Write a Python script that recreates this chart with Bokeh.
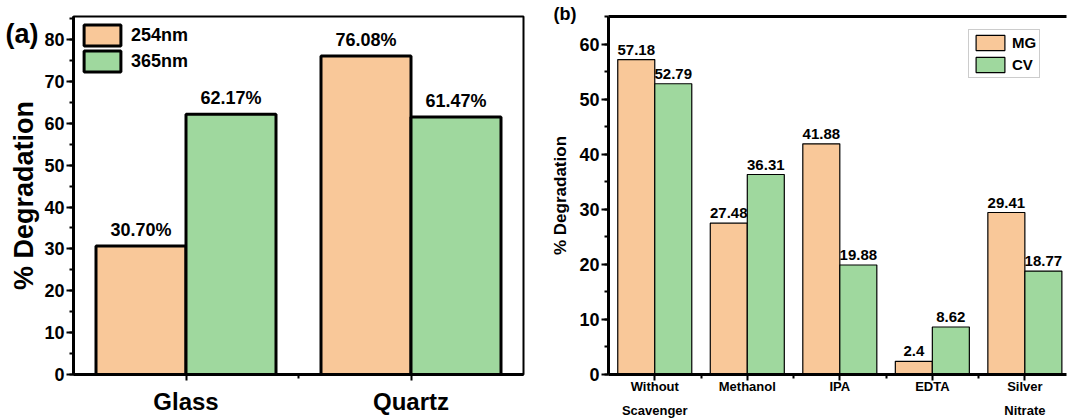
from bokeh.plotting import figure
from bokeh.models import (Range1d, FixedTicker, SingleIntervalTicker, Legend, LegendItem,
                          Title, LinearAxis)
from bokeh.layouts import row
from bokeh.embed import file_html
from bokeh.resources import INLINE
from bokeh.core.properties import value

# ---------------- data ----------------
substrates = ["Glass", "Quartz"]
wavelengths = ["254nm", "365nm"]
deg_254 = [30.70, 76.08]
deg_365 = [62.17, 61.47]

scavengers = ["Without\nScavenger", "Methanol", "IPA", "EDTA", "Silver\nNitrate"]
dyes = ["MG", "CV"]
mg = [57.18, 27.48, 41.88, 2.4, 29.41]
cv = [52.79, 36.31, 19.88, 8.62, 18.77]

ORANGE = "#F9C899"
GREEN = "#9FD89E"
FONT = "Liberation Sans"


def style_axis(ax, label_size, tick_len=7):
    ax.axis_line_width = 3
    ax.axis_line_color = "black"
    ax.major_tick_line_width = 2
    ax.minor_tick_line_width = 2
    ax.major_tick_in = 0
    ax.minor_tick_in = 0
    ax.major_tick_out = tick_len
    ax.minor_tick_out = 4
    ax.major_label_text_font = FONT
    ax.major_label_text_font_style = "bold"
    ax.major_label_text_font_size = label_size
    ax.major_label_text_color = "black"
    ax.axis_label_text_font = FONT
    ax.axis_label_text_font_style = "bold"
    ax.axis_label_text_color = "black"
    ax.axis_label_standoff = 0


# ---------------- panel (a) ----------------
t1 = Title(text="(a)", align="left", offset=-68, standoff=-64, vertical_align="bottom",
           text_font=FONT, text_font_style="bold", text_font_size="27px", text_color="black")
p1 = figure(width=540, height=420, x_range=Range1d(0.5, 2.5), y_range=Range1d(0, 85.5),
            output_backend="svg", toolbar_location=None, title=t1,
            min_border_left=73, min_border_top=16, min_border_bottom=46, min_border_right=17)
p1.grid.visible = False
p1.outline_line_color = "black"
p1.outline_line_width = 2
p1.background_fill_color = "white"

xa = list(range(1, len(substrates) + 1))
xa_254 = [x - 0.2 for x in xa]
xa_365 = [x + 0.2 for x in xa]
r254 = p1.vbar(x=xa_254, top=deg_254, width=0.4, fill_color=ORANGE, line_color="black", line_width=3)
r365 = p1.vbar(x=xa_365, top=deg_365, width=0.4, fill_color=GREEN, line_color="black", line_width=3)

p1.text(x=xa_254 + xa_365, y=deg_254 + deg_365,
        text=[f"{v:.2f}%" for v in deg_254 + deg_365],
        text_align="center", text_baseline="bottom", y_offset=-6,
        text_font=value(FONT), text_font_style="bold", text_font_size="18px", text_color="black")

p1.xaxis.ticker = FixedTicker(ticks=xa, minor_ticks=[1.5])
p1.xaxis.major_label_overrides = {x: s for x, s in zip(xa, substrates)}
p1.yaxis.ticker = SingleIntervalTicker(interval=10, num_minor_ticks=2)
style_axis(p1.xaxis[0], "24px", tick_len=6)
style_axis(p1.yaxis[0], "18px")
p1.xaxis.major_label_standoff = 7
p1.yaxis.major_label_standoff = 2
p1.yaxis.axis_label = "% Degradation"
p1.yaxis.axis_label_text_font_size = "27px"
p1.yaxis.axis_label_standoff = 2

leg1 = Legend(items=[LegendItem(label=wavelengths[0], renderers=[r254]),
                     LegendItem(label=wavelengths[1], renderers=[r365])],
              location="top_left", border_line_color=None, background_fill_alpha=0,
              glyph_width=46, glyph_height=26, spacing=0, padding=3, margin=6,
              label_standoff=6, label_text_font=FONT, label_text_font_style="bold",
              label_text_font_size="18px", label_text_color="black")
p1.add_layout(leg1)

# ---------------- panel (b) ----------------
t2 = Title(text="(b)", align="left", offset=-55, standoff=-14, vertical_align="bottom",
           text_font=FONT, text_font_style="bold", text_font_size="18px", text_color="black")
p2 = figure(width=528, height=420, x_range=Range1d(0.5, 5.45), y_range=Range1d(0, 65),
            output_backend="svg", toolbar_location=None, title=t2,
            min_border_left=68, min_border_top=16, min_border_bottom=46, min_border_right=2)
p2.grid.visible = False
p2.outline_line_color = None
p2.background_fill_color = "white"

xb = list(range(1, len(scavengers) + 1))
xb_mg = [x - 0.2 for x in xb]
xb_cv = [x + 0.2 for x in xb]
rmg = p2.vbar(x=xb_mg, top=mg, width=0.4, fill_color=ORANGE, line_color="black", line_width=1.2)
rcv = p2.vbar(x=xb_cv, top=cv, width=0.4, fill_color=GREEN, line_color="black", line_width=1.2)

p2.text(x=xb_mg + xb_cv, y=mg + cv,
        text=[f"{v:g}" for v in mg + cv],
        text_align="center", text_baseline="bottom", y_offset=-5,
        text_font=value(FONT), text_font_style="bold", text_font_size="15px", text_color="black")

p2.xaxis.ticker = FixedTicker(ticks=xb, minor_ticks=[1.5, 2.5, 3.5, 4.5])
p2.xaxis.major_label_overrides = {x: s for x, s in zip(xb, scavengers)}
p2.yaxis.ticker = SingleIntervalTicker(interval=10, num_minor_ticks=2)
style_axis(p2.xaxis[0], "13px", tick_len=6)
style_axis(p2.yaxis[0], "18px")
p2.xaxis.major_label_text_line_height = 1.6
p2.xaxis.major_label_standoff = -2
p2.yaxis.major_label_standoff = 2
p2.yaxis.axis_label = "% Degradation"
p2.yaxis.axis_label_text_font_size = "17px"
p2.yaxis.axis_label_standoff = 6

top_ax = LinearAxis(ticker=FixedTicker(ticks=[]), axis_line_width=3, axis_line_color="black",
                    major_tick_out=0, minor_tick_out=0, major_label_text_font_size="0px",
                    axis_label_standoff=0, major_label_standoff=0)
p2.add_layout(top_ax, "above")

leg2 = Legend(items=[LegendItem(label=dyes[0], renderers=[rmg]),
                     LegendItem(label=dyes[1], renderers=[rcv])],
              location=(360, 296), border_line_color="#999999", border_line_width=1,
              background_fill_color="white",
              glyph_width=36, glyph_height=19, spacing=3, padding=3, margin=0,
              label_standoff=4, label_text_font=FONT, label_text_font_style="bold",
              label_text_font_size="15px", label_text_color="black")
p2.add_layout(leg2)

layout = row(p1, p2)
open("out.html", "w").write(file_html(layout, INLINE))
